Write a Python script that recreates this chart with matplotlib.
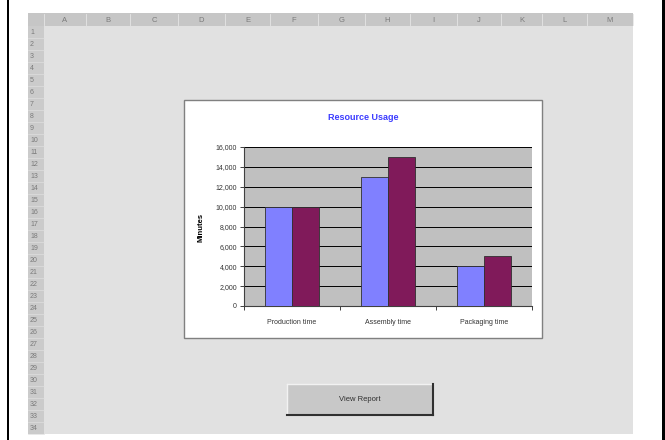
import matplotlib
matplotlib.use("Agg")
import matplotlib.pyplot as plt
from matplotlib.patches import Rectangle
import numpy as np

plt.rcParams['font.family'] = ['Liberation Sans', 'DejaVu Sans']

# Chart data
categories = ["Production time", "Assembly time", "Packaging time"]
series_a = [10000, 13000, 4000]
series_b = [10000, 15000, 5000]
y_ticks = [0, 2000, 4000, 6000, 8000, 10000, 12000, 14000, 16000]
y_tick_labels = ["0", "2,000", "4,000", "6,000", "8,000", "10,000", "12,000", "14,000", "16,000"]
title = "Resource Usage"
y_label = "Minutes"
button_text = "View Report"

# Spreadsheet headers
column_labels = ["A", "B", "C", "D", "E", "F", "G", "H", "I", "J", "K", "L", "M"]
row_labels = [str(i) for i in range(1, 35)]

W, H = 665, 440
fig = plt.figure(figsize=(W / 100, H / 100), dpi=100)
fig.patch.set_facecolor("white")

# Pixel-coordinate overlay for the worksheet background
bg = fig.add_axes([0, 0, 1, 1])
bg.set_xlim(0, W)
bg.set_ylim(H, 0)
bg.axis("off")

sheet_l, sheet_r, sheet_t, sheet_b = 28, 633, 13, 434
head_h, rowhead_w = 13, 16
bg.add_patch(Rectangle((sheet_l, sheet_t), sheet_r - sheet_l, sheet_b - sheet_t,
                       facecolor="#e1e1e1", edgecolor="none"))
# column header strip
bg.add_patch(Rectangle((sheet_l, sheet_t), sheet_r - sheet_l, head_h,
                       facecolor="#c6c6c6", edgecolor="none"))
# row header strip
bg.add_patch(Rectangle((sheet_l, sheet_t + head_h), rowhead_w, sheet_b - sheet_t - head_h,
                       facecolor="#cbcbcb", edgecolor="none"))

col_edges = [44, 86, 130, 178, 225, 270, 318, 365, 410, 457, 501, 542, 587, 633]
for i, lab in enumerate(column_labels):
    cx = (col_edges[i] + col_edges[i + 1]) / 2
    bg.text(cx, sheet_t + head_h / 2 + 0.5, lab, ha="center", va="center",
            fontsize=5.5, color="#7a7a7a")
for x in col_edges:
    bg.plot([x, x], [sheet_t + 1, sheet_t + head_h - 1], color="#e6e6e6", lw=0.6)

row_h = (sheet_b - sheet_t - head_h) / len(row_labels)
for i, lab in enumerate(row_labels):
    cy = sheet_t + head_h + row_h * (i + 0.5)
    bg.text(sheet_l + 2, cy, lab, ha="left", va="center", fontsize=5, color="#7a7a7a")
    y0 = sheet_t + head_h + row_h * (i + 1)
    bg.plot([sheet_l, sheet_l + rowhead_w], [y0, y0], color="#dedede", lw=0.5)

# black side rules
bg.add_patch(Rectangle((6.5, 0), 2, H, facecolor="black", edgecolor="none"))
bg.add_patch(Rectangle((661.5, 0), 3.5, H, facecolor="black", edgecolor="none"))

# chart object frame
bg.add_patch(Rectangle((184, 100), 358, 238, facecolor="white",
                       edgecolor="#808080", lw=1.0))
bg.text(363, 118, title, ha="center", va="center", fontsize=6.5,
        fontweight="bold", color="#3c3cff")
bg.text(201, 227, y_label, ha="center", va="center", rotation=90,
        fontsize=5.5, fontweight="bold", color="black")

# button
bx0, by0, bx1, by1 = 287, 384, 433, 415
bg.add_patch(Rectangle((bx0, by0), bx1 - bx0, by1 - by0, facecolor="#c8c8c8",
                       edgecolor="none"))
bg.plot([bx0, bx1], [by0, by0], color="#f2f2f2", lw=1.0)
bg.plot([bx0, bx0], [by0, by1], color="#f2f2f2", lw=1.0)
bg.plot([bx1, bx1], [by0, by1], color="#303030", lw=1.5)
bg.plot([bx0, bx1], [by1, by1], color="#303030", lw=1.5)
bg.text((bx0 + bx1) / 2, (by0 + by1) / 2, button_text, ha="center", va="center",
        fontsize=5.5, color="#303030")

# Plot area
pl, pr, pt, pb = 244, 532, 147, 306
ax = fig.add_axes([pl / W, 1 - pb / H, (pr - pl) / W, (pb - pt) / H])
ax.set_facecolor("#c0c0c0")
x = np.arange(len(categories))
bw = 0.285
ax.bar(x - bw / 2, series_a, bw, color="#8080ff", edgecolor="#303030", lw=0.6, zorder=3)
ax.bar(x + bw / 2, series_b, bw, color="#801a5a", edgecolor="#303030", lw=0.6, zorder=3)
ax.set_xlim(-0.5, len(categories) - 0.5)
ax.set_ylim(0, 16000)
ax.set_yticks(y_ticks)
ax.set_yticklabels(y_tick_labels, fontsize=5, color="#333333")
ax.yaxis.grid(True, color="black", lw=0.7, zorder=1)
ax.set_axisbelow(True)
ax.set_xticks(x)
ax.set_xticklabels(categories, fontsize=5, color="#333333")
ax.tick_params(axis="x", length=0, pad=9)
ax.set_xticks(np.arange(-0.5, len(categories), 1.0), minor=True)
ax.tick_params(axis="x", which="minor", length=3, color="#404040", width=0.7)
ax.tick_params(axis="y", length=3, color="#404040", width=0.7, pad=2)
for side in ["top", "right"]:
    ax.spines[side].set_visible(False)
ax.spines["left"].set_color("#404040")
ax.spines["bottom"].set_color("#404040")
ax.spines["left"].set_linewidth(0.8)
ax.spines["bottom"].set_linewidth(0.8)

fig.savefig("out.png", dpi=100, facecolor="white")
